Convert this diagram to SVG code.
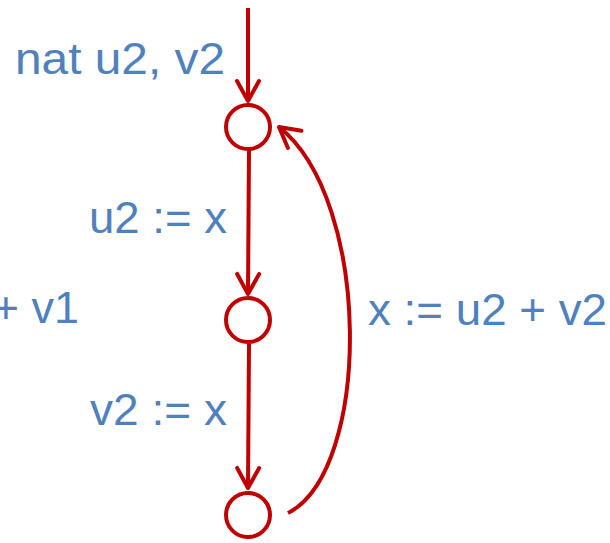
<svg xmlns="http://www.w3.org/2000/svg" width="610" height="543" viewBox="0 0 610 543">
<style>
.lbl{font-family:"Liberation Sans","Open Sans",sans-serif;font-size:45px;fill:#4F81BD}
.node{fill:#fff;stroke:#C00000;stroke-width:4}
.edge{fill:none;stroke:#C00000;stroke-width:4}
</style>
<defs>
<marker id="arr" viewBox="0 0 12 12" refX="11" refY="6" markerWidth="24" markerHeight="24" markerUnits="userSpaceOnUse" orient="auto" overflow="visible">
<path d="M1,0.5 L11,6 L1,11.5" fill="none" stroke="#C00000" stroke-width="2" stroke-linecap="round" stroke-linejoin="round"/>
</marker>
</defs>
<rect width="610" height="543" fill="#fff"/>
<g id="edges">
<path class="edge" d="M248,8 L248,101" marker-end="url(#arr)"/>
<path class="edge" d="M249,150 L248,294" marker-end="url(#arr)"/>
<path class="edge" d="M249,344 L248,488" marker-end="url(#arr)"/>
<path class="edge" d="M288,513 C372,470 372,200 279,127" marker-end="url(#arr)"/>
</g>
<g id="n1"><circle class="node" cx="248" cy="127" r="22"/></g>
<g id="n2"><circle class="node" cx="248" cy="320" r="22"/></g>
<g id="n3"><circle class="node" cx="248" cy="515" r="22"/></g>
<g id="labels">
<text class="lbl" x="15" y="74" textLength="210" lengthAdjust="spacingAndGlyphs">nat u2, v2</text>
<text class="lbl" x="89" y="233" textLength="138" lengthAdjust="spacingAndGlyphs">u2 := x</text>
<text class="lbl" x="90" y="425" textLength="137" lengthAdjust="spacingAndGlyphs">v2 := x</text>
<text class="lbl" x="368" y="325" textLength="239" lengthAdjust="spacingAndGlyphs">x := u2 + v2</text>
<text class="lbl" x="79" y="323" text-anchor="end">+ v1</text>
</g>
</svg>
